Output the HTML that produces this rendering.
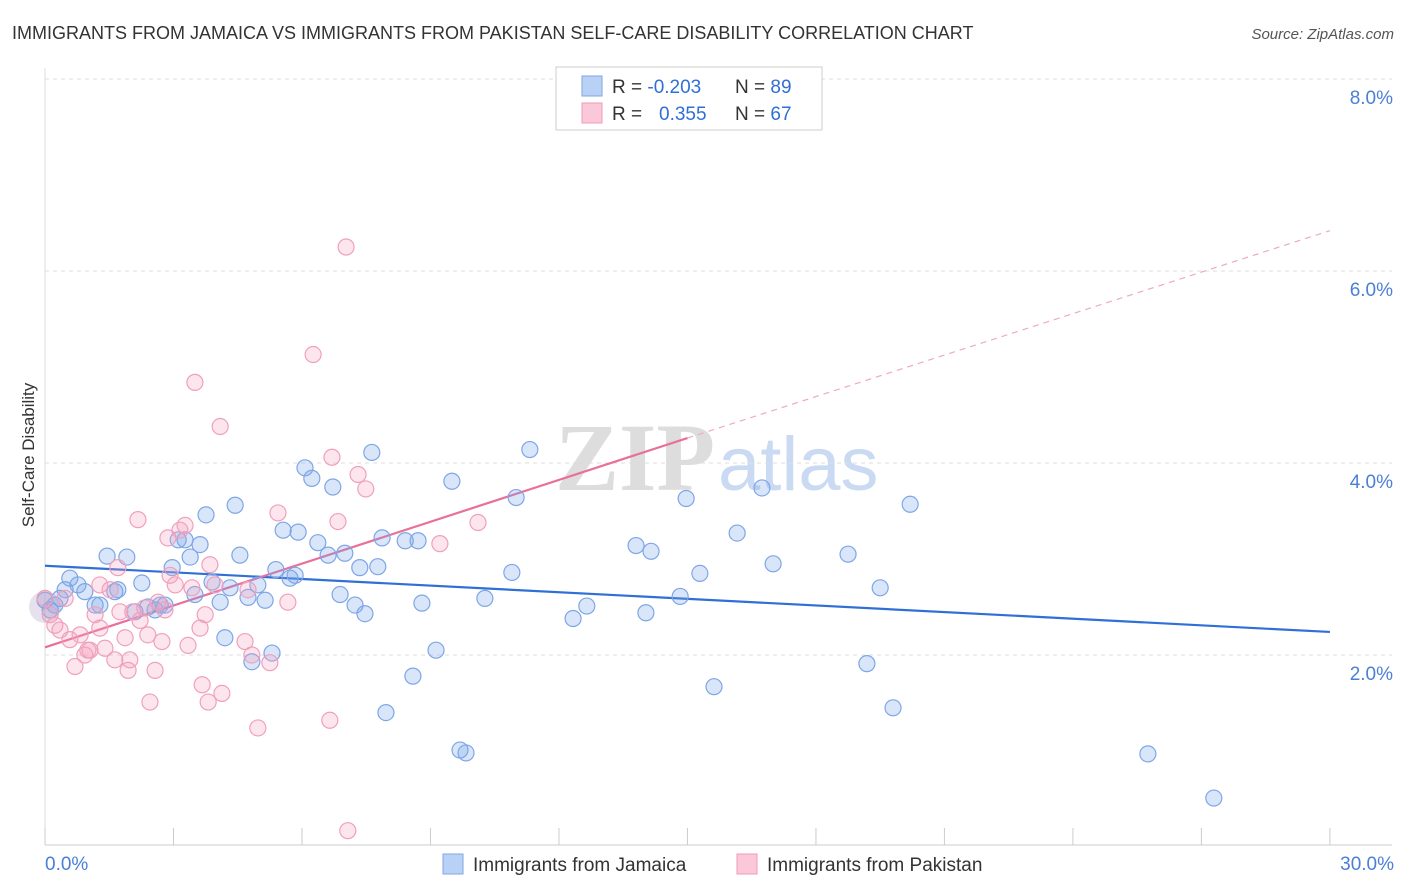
<!DOCTYPE html>
<html><head><meta charset="utf-8"><style>
body{margin:0;background:#fff;font-family:"Liberation Sans",sans-serif;}
svg{display:block}
</style></head><body>
<svg id="chart" width="1406" height="892" xmlns="http://www.w3.org/2000/svg">
<text x="12" y="39" font-size="18" fill="#333">IMMIGRANTS FROM JAMAICA VS IMMIGRANTS FROM PAKISTAN SELF-CARE DISABILITY CORRELATION CHART</text>
<text x="1394" y="39" font-size="15" fill="#555" text-anchor="end" font-style="italic">Source: ZipAtlas.com</text>
<text transform="translate(34,455) rotate(-90)" font-size="17" fill="#333" text-anchor="middle">Self-Care Disability</text>
<g>
<text x="555" y="490" font-size="96" fill="#ddd" font-family="Liberation Serif,serif" font-weight="bold">ZIP</text>
<text x="718" y="490" font-size="76" fill="#c9daf2">atlas</text>
</g>
<g id="grid"></g><g id="axes"></g><g id="lines"></g><g id="pts"></g>
<g>
<rect x="556" y="67" width="266" height="63" fill="#fff" stroke="#ccc"/>
<rect x="582" y="76" width="20" height="20" fill="#b9d1f5" stroke="#7ea6e6"/>
<rect x="582" y="103" width="20" height="20" fill="#fac8d8" stroke="#f09ab8"/>
<text x="612" y="93" font-size="19" fill="#333">R = <tspan fill="#2f6fd6">-0.203</tspan></text>
<text x="735" y="93" font-size="19" fill="#333">N = <tspan fill="#2f6fd6">89</tspan></text>
<text x="612" y="120" font-size="19" fill="#333">R = <tspan fill="#2f6fd6" x="659">0.355</tspan></text>
<text x="735" y="120" font-size="19" fill="#333">N = <tspan fill="#2f6fd6">67</tspan></text>
</g>
<g>
<rect x="443" y="854" width="20" height="20" fill="#b9d1f5" stroke="#7ea6e6"/>
<text x="473" y="871" font-size="19" fill="#333">Immigrants from Jamaica</text>
<rect x="737" y="854" width="20" height="20" fill="#fac8d8" stroke="#f09ab8"/>
<text x="767" y="871" font-size="19" fill="#333">Immigrants from Pakistan</text>
</g>
</svg>
<script>
const yTicks=[2,4,6,8];
const yTickLabels=["2.0%","4.0%","6.0%","8.0%"];
const xTickLabels=["0.0%","30.0%"];
const jamaicaX=[0.00,0.12,0.23,0.35,0.47,0.58,0.77,0.93,1.17,1.28,1.45,1.63,1.70,1.91,2.10,2.26,2.40,2.57,2.69,2.80,2.97,3.11,3.27,3.39,3.50,3.62,3.76,3.90,4.09,4.20,4.32,4.44,4.55,4.74,4.83,4.97,5.14,5.30,5.39,5.56,5.72,5.84,5.91,6.07,6.23,6.37,6.61,6.72,6.89,7.00,7.24,7.35,7.47,7.63,7.77,7.87,7.96,8.41,8.71,8.80,8.59,9.13,9.50,9.69,9.83,10.27,10.90,11.00,11.32,12.33,12.65,13.80,14.03,14.15,14.83,14.97,15.29,15.62,16.16,16.74,17.00,18.75,19.19,19.50,19.80,20.20,25.75,27.29];
const jamaicaY=[2.57,2.47,2.52,2.59,2.68,2.80,2.73,2.66,2.52,2.52,3.03,2.66,2.68,3.02,2.45,2.75,2.50,2.47,2.52,2.52,2.91,3.20,3.20,3.02,2.63,3.15,3.46,2.76,2.55,2.18,2.70,3.56,3.04,2.60,1.93,2.73,2.57,2.02,2.89,3.30,2.80,2.83,3.28,3.95,3.84,3.17,3.04,3.75,2.63,3.06,2.52,2.91,2.43,4.11,2.92,3.22,1.40,3.19,3.19,2.54,1.78,2.05,3.81,1.01,0.98,2.59,2.86,3.64,4.14,2.38,2.51,3.14,2.44,3.08,2.61,3.63,2.85,1.67,3.27,3.74,2.95,3.05,1.91,2.70,1.45,3.57,0.97,0.51];
const pakistanX=[0.00,0.12,0.23,0.35,0.47,0.58,0.70,0.82,0.93,1.00,1.17,1.28,1.40,1.52,1.63,1.75,1.87,1.94,2.05,2.17,2.33,2.40,2.45,2.57,2.64,2.73,2.87,2.92,3.04,3.15,3.27,3.34,3.43,3.50,3.62,3.67,3.74,3.81,3.85,3.97,4.09,4.13,4.67,4.74,4.97,5.25,5.44,5.67,6.26,6.65,6.70,6.84,7.03,7.07,7.31,7.49,9.22,10.11,1.70,1.98,1.05,2.22,2.80,4.83,1.28];
const pakistanY=[2.59,2.42,2.31,2.26,2.59,2.16,1.88,2.21,2.00,2.05,2.42,2.28,2.07,2.68,1.95,2.45,2.18,1.84,2.45,3.41,2.49,2.21,1.51,1.84,2.55,2.14,3.22,2.83,2.73,3.30,3.35,2.10,2.70,4.84,2.28,1.69,2.42,1.51,2.94,2.73,4.38,1.60,2.14,2.68,1.24,1.92,3.48,2.55,5.13,1.32,4.06,3.39,6.25,0.17,3.88,3.73,3.16,3.38,2.91,1.95,2.05,2.36,2.47,2.00,2.73];
const jamaicaLine=[0,2.93,30,2.24];
const pakistanLine=[0,2.08,15,4.26,30,6.42];
const NS="http://www.w3.org/2000/svg";
const sx=v=>45+v*42.83, sy=v=>847-v*96;
function mk(tag,attrs,parent){const e=document.createElementNS(NS,tag);for(const k in attrs)e.setAttribute(k,attrs[k]);parent.appendChild(e);return e;}
const grid=document.getElementById('grid'),axes=document.getElementById('axes'),lines=document.getElementById('lines'),pts=document.getElementById('pts');
yTicks.forEach((t,i)=>{
 const g=mk('line',{x1:45,x2:1392,y1:sy(t),y2:sy(t),stroke:'#ddd','stroke-dasharray':'4,4'},grid);
 
 
 const tx=mk('text',{x:1393,y:sy(t)+25,'font-size':19,fill:'#4a7fd6','text-anchor':'end'},axes);
 tx.textContent=yTickLabels[i];
 
 
});
const al=mk('line',{x1:45,x2:1392,y1:845,y2:845,stroke:'#ccc'},axes);


const yl=mk('line',{x1:45,x2:45,y1:68,y2:845,stroke:'#ddd'},axes);


for(let i=0;i<=10;i++){
 const t=mk('line',{x1:sx(i*3),x2:sx(i*3),y1:828,y2:845,stroke:'#ccc'},axes);
 
 
}
[[0,'start',45],[1,'end',1394]].forEach(([i,a,x])=>{
 const t=mk('text',{x:x,y:870,'font-size':19,fill:'#4a7fd6','text-anchor':a},axes);
 t.textContent=xTickLabels[i];
 
 
});
function dots(X,Y,fill,stroke,name){
 X.forEach((x,i)=>{
  const c=mk('circle',{cx:sx(x),cy:sy(Y[i]),r:8,fill:fill,stroke:stroke,'stroke-width':1.2},pts);
  
  
 });
}
const big=mk('circle',{cx:sx(0),cy:sy(2.5),r:16,fill:'rgba(170,160,200,0.3)',stroke:'none'},pts);


dots(jamaicaX,jamaicaY,'rgba(120,165,235,0.28)','#7ea6e6','jamaica-point');
dots(pakistanX,pakistanY,'rgba(245,160,190,0.28)','#f0a0bc','pakistan-point');
const jl=mk('line',{x1:sx(jamaicaLine[0]),y1:sy(jamaicaLine[1]),x2:sx(jamaicaLine[2]),y2:sy(jamaicaLine[3]),stroke:'#2f6fd6','stroke-width':2.2},lines);


const pl=mk('line',{x1:sx(pakistanLine[0]),y1:sy(pakistanLine[1]),x2:sx(pakistanLine[2]),y2:sy(pakistanLine[3]),stroke:'#e8709a','stroke-width':2.2},lines);


const pd=mk('line',{x1:sx(pakistanLine[2]),y1:sy(pakistanLine[3]),x2:sx(pakistanLine[4]),y2:sy(pakistanLine[5]),stroke:'#eeaac0','stroke-width':1.2,'stroke-dasharray':'6,5'},lines);


</script>
</body></html>
